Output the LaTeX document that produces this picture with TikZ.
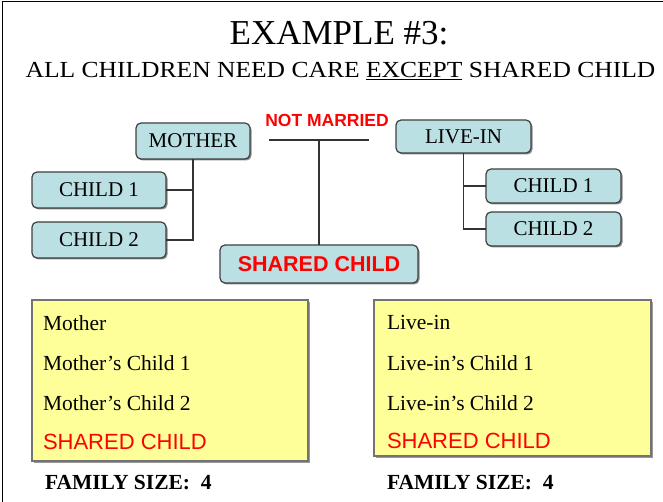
\documentclass[tikz,border=0pt]{standalone}
\usepackage{fontspec}
\setmainfont{Liberation Serif}
\newfontfamily\arialfont{Liberation Sans}
\usetikzlibrary{shadows}
\definecolor{boxblue}{HTML}{BBE0E3}
\definecolor{boxyellow}{HTML}{FFFF99}
\definecolor{edgegray}{HTML}{404040}

\begin{document}
\begin{tikzpicture}[x=1pt, y=-1pt,
  every node/.style={outer sep=0pt},
  bluebox/.style={draw=edgegray, line width=1.2pt, fill=boxblue, rounded corners=5pt, inner sep=0pt, font=\fontsize{21}{25}\selectfont, drop shadow={shadow xshift=1.5pt, shadow yshift=-1.5pt, fill=black!45, opacity=1}},
  listbox/.style={draw=black!55, line width=1.2pt, fill=boxyellow, inner sep=0pt, drop shadow={shadow xshift=2pt, shadow yshift=-2pt, fill=black!40, opacity=1}},
  line/.style={draw=black!80, line width=1.6pt},
  redtext/.style={text=red, font=\arialfont\fontsize{22}{26}\selectfont},
  listtext/.style={anchor=base west, inner sep=0pt, font=\fontsize{21.5}{25}\selectfont},
  sizetext/.style={anchor=base west, inner sep=0pt, font=\bfseries\fontsize{21.5}{25}\selectfont}]

\useasboundingbox (0,0) rectangle (663,502);
\draw[line width=1.5pt] (2.5,502) -- (2.5,1.5) -- (663,1.5);

\node[anchor=base, inner sep=0pt, font=\fontsize{35}{40}\selectfont] (title) at (339,45) {EXAMPLE \#3:};
\node[anchor=base, inner sep=0pt, font=\fontsize{23}{27}\selectfont] (subtitle) at (340.5,78) {\scalebox{1.11}[1]{ALL CHILDREN NEED CARE \underline{EXCEPT} SHARED CHILD}};

\node[bluebox, minimum width=114, minimum height=36] (mother) at (193,141) {MOTHER};
\node[bluebox, minimum width=134, minimum height=36] (mchildA) at (99,190) {CHILD 1};
\node[bluebox, minimum width=134, minimum height=36] (mchildB) at (99,240) {CHILD 2};
\node[bluebox, minimum width=135, minimum height=33] (livein) at (463.5,136.5) {LIVE-IN};
\node[bluebox, minimum width=135, minimum height=34] (lchildA) at (553.5,186) {CHILD 1};
\node[bluebox, minimum width=135, minimum height=34] (lchildB) at (553.5,229) {CHILD 2};
\node[bluebox, redtext, font=\arialfont\bfseries\fontsize{21.5}{25}\selectfont, minimum width=198, minimum height=38] (shared) at (319,264) {SHARED CHILD};

\node[anchor=base, inner sep=0pt, text=red, font=\arialfont\bfseries\fontsize{17.5}{20}\selectfont] (notmarried) at (327,127) {NOT MARRIED};
\coordinate (wedL) at (269,140);
\coordinate (wedR) at (369,140);

\draw[line] (wedL) -- (wedR);
\draw[line] (shared.north |- wedL) -- (shared.north);
\draw[line] (mother.south) |- (mchildB.east);
\draw[line] (mchildA.east) -- (mother.south |- mchildA.east);
\draw[line] (livein.south) |- (lchildB.west);
\draw[line] (lchildA.west) -- (livein.south |- lchildA.west);

\node[listbox, minimum width=276, minimum height=161] (mlist) at (170,380.5) {};
\node[listbox, minimum width=277, minimum height=156] (llist) at (512.5,378) {};

\node[listtext] (mlistA) at (43,330) {Mother};
\node[listtext] (mlistB) at (43,370) {Mother's Child 1};
\node[listtext] (mlistC) at (43,410) {Mother's Child 2};
\node[listtext, redtext] (mlistD) at (43,449) {SHARED CHILD};

\node[listtext] (llistA) at (387,329) {Live-in};
\node[listtext] (llistB) at (387,370) {Live-in's Child 1};
\node[listtext] (llistC) at (387,410) {Live-in's Child 2};
\node[listtext, redtext] (llistD) at (387,448) {SHARED CHILD};

\node[sizetext] (msize) at (45,489) {FAMILY SIZE:\ \ 4};
\node[sizetext] (lsize) at (387,489) {FAMILY SIZE:\ \ 4};
\end{tikzpicture}
\end{document}
